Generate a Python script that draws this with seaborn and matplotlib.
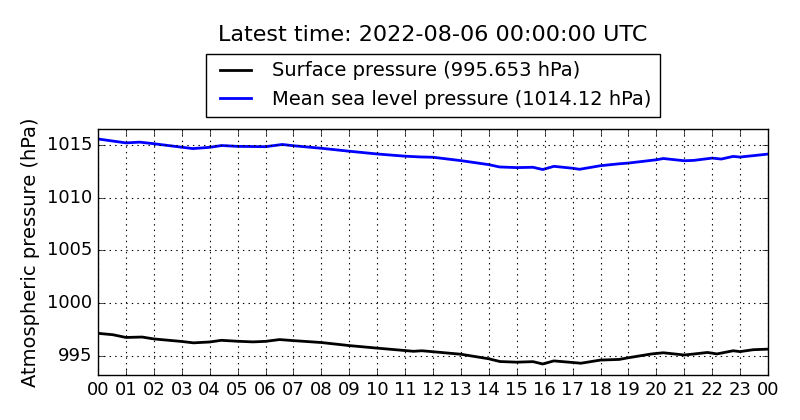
import matplotlib
matplotlib.use('Agg')
import matplotlib.pyplot as plt
import matplotlib.dates as mdates
import matplotlib.ticker as mticker
import pandas as pd
import seaborn as sns

# Hours after 2022-08-05 00:00 UTC
hours_sfc = [0, 0.53, 1, 1.58, 2, 3, 3.42, 4, 4.42, 5, 5.55, 6, 6.5, 7, 8, 9, 10, 11,
             11.3, 11.6, 12, 13, 14, 14.4, 15, 15.58, 15.93, 16.33, 17, 17.3, 18,
             18.67, 19, 19.83, 20.25, 21, 21.33, 21.83, 22.17, 22.75, 23, 23.47, 24]
surface = [997.15, 997.02, 996.76, 996.80, 996.62, 996.38, 996.25, 996.33, 996.49,
           996.40, 996.34, 996.39, 996.56, 996.46, 996.28, 995.99, 995.75, 995.52,
           995.45, 995.50, 995.41, 995.17, 994.74, 994.48, 994.42, 994.47, 994.25,
           994.54, 994.39, 994.32, 994.62, 994.68, 994.84, 995.20, 995.31, 995.10,
           995.19, 995.34, 995.20, 995.50, 995.42, 995.60, 995.653]

hours_msl = [0, 1, 1.5, 2, 3, 3.4, 4, 4.43, 5, 6, 6.6, 7, 8, 9, 10, 11, 11.53, 12,
             13, 14, 14.38, 15, 15.58, 15.93, 16.33, 17, 17.25, 18, 18.67, 19, 20,
             20.25, 21, 21.33, 22, 22.33, 22.75, 23, 23.47, 24]
msl = [1015.55, 1015.18, 1015.25, 1015.10, 1014.77, 1014.64, 1014.76, 1014.93,
       1014.85, 1014.82, 1015.03, 1014.91, 1014.67, 1014.39, 1014.13, 1013.92,
       1013.85, 1013.82, 1013.50, 1013.12, 1012.90, 1012.84, 1012.87, 1012.66,
       1012.96, 1012.78, 1012.68, 1013.02, 1013.20, 1013.27, 1013.58, 1013.70,
       1013.49, 1013.52, 1013.74, 1013.65, 1013.90, 1013.84, 1013.97, 1014.12]

start = pd.Timestamp('2022-08-05 00:00:00')
df_sfc = pd.DataFrame({'time': start + pd.to_timedelta(hours_sfc, unit='h'), 'value': surface})
df_msl = pd.DataFrame({'time': start + pd.to_timedelta(hours_msl, unit='h'), 'value': msl})

plt.style.use('classic')
plt.rcParams['font.family'] = ['DejaVu Sans']

fig = plt.figure(figsize=(8, 4.2), dpi=100)
fig.patch.set_facecolor('white')
ax = fig.add_axes([0.1225, 0.107, 0.8375, 0.586])

sns.lineplot(data=df_sfc, x='time', y='value', ax=ax, color='black', linewidth=2,
             label='Surface pressure (%.3f hPa)' % surface[-1])
sns.lineplot(data=df_msl, x='time', y='value', ax=ax, color='blue', linewidth=2,
             label='Mean sea level pressure (%.2f hPa)' % msl[-1])

ax.set_xlim(start, start + pd.Timedelta(hours=24))
ax.set_ylim(993.2, 1016.5)
ax.set_yticks([995, 1000, 1005, 1010, 1015])
ax.yaxis.set_major_formatter(mticker.ScalarFormatter(useOffset=False))
ax.xaxis.set_major_locator(mdates.HourLocator(interval=1))
ax.xaxis.set_major_formatter(mdates.DateFormatter('%H'))
ax.tick_params(labelsize=13)
ax.grid(True, color='black', linestyle=':', linewidth=0.8)
ax.set_xlabel('')
ax.set_ylabel('Atmospheric pressure (hPa)', fontsize=14)

leg = ax.legend(loc='lower center', bbox_to_anchor=(0.5, 1.049), fontsize=14,
                fancybox=False, frameon=True, borderaxespad=0, handlelength=2.2)
leg.get_frame().set_edgecolor('black')
fig.text(0.5413, 0.917, 'Latest time: 2022-08-06 00:00:00 UTC', fontsize=16,
         ha='center', va='center')

fig.savefig('out.png', dpi=100, facecolor='white')
